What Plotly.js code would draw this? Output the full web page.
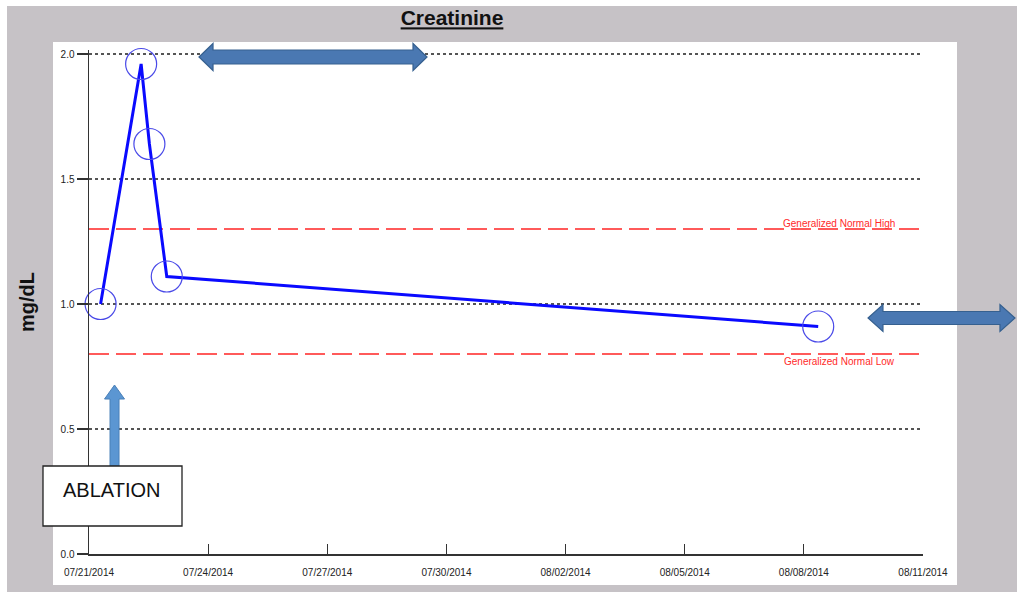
<!DOCTYPE html>
<html><head><meta charset="utf-8">
<script src="https://cdn.plot.ly/plotly-3.0.1.min.js"></script>
<style>html,body{margin:0;padding:0;background:#fff}#chart{width:1024px;height:598px}</style>
</head><body><div id="chart"></div>
<script>
// ---- data ----
const dates = ['2014-07-21 07:00', '2014-07-22 07:30', '2014-07-22 12:30', '2014-07-22 23:00', '2014-08-08 08:40'];
const creatinine = [1.0, 1.96, 1.64, 1.11, 0.91];
const tickDates = ['2014-07-21', '2014-07-24', '2014-07-27', '2014-07-30', '2014-08-02', '2014-08-05', '2014-08-08', '2014-08-11'];
const tickLabels = ['07/21/2014', '07/24/2014', '07/27/2014', '07/30/2014', '08/02/2014', '08/05/2014', '08/08/2014', '08/11/2014'];
const yTicks = [0, 0.5, 1.0, 1.5, 2.0];
const yTickLabels = ['0.0', '0.5', '1.0', '1.5', '2.0'];
const normalHigh = 1.3;
const normalLow = 0.8;
const xStart = '2014-07-21';
const xEnd = '2014-08-11';
const titleText = 'Creatinine';
const yTitleText = 'mg/dL';
const highLabel = 'Generalized Normal High';
const lowLabel = 'Generalized Normal Low';
const ablationLabel = 'ABLATION';

// ---- layout geometry (pixels) ----
const W = 1024, H = 598;
const mL = 89, mR = 101, mT = 50, mB = 44;
const pw = W - mL - mR, ph = H - mT - mB;
const PX = px => (px - mL) / pw;
const PY = py => (H - mB - py) / ph;
const pt = (px, py) => PX(px).toFixed(4) + ',' + PY(py).toFixed(4);

function hDoubleArrow(x1, x2, yc, h, hw, sw) {
  return 'M' + pt(x1, yc) + ' L' + pt(x1 + h, yc - hw) + ' L' + pt(x1 + h, yc - sw) +
    ' L' + pt(x2 - h, yc - sw) + ' L' + pt(x2 - h, yc - hw) + ' L' + pt(x2, yc) +
    ' L' + pt(x2 - h, yc + hw) + ' L' + pt(x2 - h, yc + sw) + ' L' + pt(x1 + h, yc + sw) +
    ' L' + pt(x1 + h, yc + hw) + ' Z';
}
function upArrow(xc, yt, yb, ys, hw, sw) {
  return 'M' + pt(xc, yt) + ' L' + pt(xc + hw, yb) + ' L' + pt(xc + sw, yb) + ' L' + pt(xc + sw, ys) +
    ' L' + pt(xc - sw, ys) + ' L' + pt(xc - sw, yb) + ' L' + pt(xc - hw, yb) + ' Z';
}

const FONT = 'Liberation Sans, Arial, sans-serif';

const traces = [{
  x: dates, y: creatinine, type: 'scatter', mode: 'lines+markers',
  line: {color: '#0a0aff', width: 3},
  marker: {symbol: 'circle-open', size: 31, color: '#4a4ae8', line: {width: 1.2, color: '#4a4ae8'}},
  hoverinfo: 'x+y', showlegend: false, cliponaxis: false
}];

const shapes = [
  // gray frame
  {type: 'rect', xref: 'paper', yref: 'paper', x0: PX(7), x1: PX(1017), y0: PY(592), y1: PY(6),
   fillcolor: '#c6c2c6', line: {width: 0}, layer: 'below'},
  // white panel
  {type: 'rect', xref: 'paper', yref: 'paper', x0: PX(53), x1: PX(957), y0: PY(585), y1: PY(42),
   fillcolor: '#ffffff', line: {width: 0}, layer: 'below'},
  // normal range lines
  {type: 'line', xref: 'x', yref: 'y', x0: xStart, x1: xEnd, y0: normalHigh, y1: normalHigh,
   line: {color: '#ff5a5a', width: 2, dash: '20px,7px'}, layer: 'below'},
  {type: 'line', xref: 'x', yref: 'y', x0: xStart, x1: xEnd, y0: normalLow, y1: normalLow,
   line: {color: '#ff5a5a', width: 2, dash: '20px,7px'}, layer: 'below'},
  // arrows
  {type: 'path', xref: 'paper', yref: 'paper', path: hDoubleArrow(199, 427, 57, 14, 13.5, 7),
   fillcolor: '#4a78b2', line: {color: '#36608f', width: 1.2}},
  {type: 'path', xref: 'paper', yref: 'paper', path: hDoubleArrow(868, 1015, 318, 15, 13.5, 6.5),
   fillcolor: '#4a78b2', line: {color: '#36608f', width: 1.2}},
  {type: 'path', xref: 'paper', yref: 'paper', path: upArrow(114.5, 385, 399, 466, 10, 4.5),
   fillcolor: '#5b96d2', line: {color: '#4a80b8', width: 1}},
  // ablation box
  {type: 'rect', xref: 'paper', yref: 'paper', x0: PX(43), x1: PX(182), y0: PY(526), y1: PY(466),
   fillcolor: '#ffffff', line: {color: '#222', width: 1.3}}
];

const annotations = [
  {xref: 'paper', yref: 'paper', x: PX(897), y: PY(223), xanchor: 'right', yanchor: 'middle',
   text: highLabel, showarrow: false, font: {family: FONT, size: 10, color: '#ff2a2a'}},
  {xref: 'paper', yref: 'paper', x: PX(897), y: PY(361), xanchor: 'right', yanchor: 'middle',
   text: lowLabel, showarrow: false, font: {family: FONT, size: 10, color: '#ff2a2a'}},
  {xref: 'paper', yref: 'paper', x: PX(111), y: PY(490), xanchor: 'center', yanchor: 'middle',
   text: ablationLabel, showarrow: false, font: {family: FONT, size: 20, color: '#111'}}
];

const layout = {
  width: W, height: H,
  margin: {l: mL, r: mR, t: mT, b: mB, pad: 0},
  paper_bgcolor: '#ffffff', plot_bgcolor: 'rgba(0,0,0,0)',
  showlegend: false,
  title: {text: '<b>' + titleText + '</b>', xref: 'paper', x: PX(452), xanchor: 'center',
          yref: 'container', y: 1 - 18 / H, yanchor: 'middle',
          font: {family: FONT, size: 21, color: '#111', lineposition: 'under'}},
  xaxis: {type: 'date', range: [xStart, xEnd], showgrid: false, zeroline: false,
          showline: true, linecolor: '#333', linewidth: 1.5,
          ticks: 'inside', ticklen: 10, tickwidth: 1.2, tickcolor: '#333',
          tickmode: 'array', tickvals: tickDates, ticktext: tickLabels,
          tickfont: {family: FONT, size: 10, color: '#222'}, ticklabelstandoff: 8},
  yaxis: {range: [0, 2.016], showgrid: true, gridcolor: '#555', gridwidth: 1.6, griddash: '3px,3px',
          zeroline: false, showline: true, linecolor: '#333', linewidth: 1.5,
          ticks: 'outside', ticklen: 11, tickwidth: 1.2, tickcolor: '#333',
          tickmode: 'array', tickvals: yTicks, ticktext: yTickLabels,
          tickfont: {family: FONT, size: 10, color: '#222'},
          title: {text: '<b>' + yTitleText + '</b>', standoff: 20, font: {family: FONT, size: 20, color: '#111'}}},
  shapes: shapes,
  annotations: annotations
};

Plotly.newPlot('chart', traces, layout, {displayModeBar: false, staticPlot: true});
</script>
</body></html>
